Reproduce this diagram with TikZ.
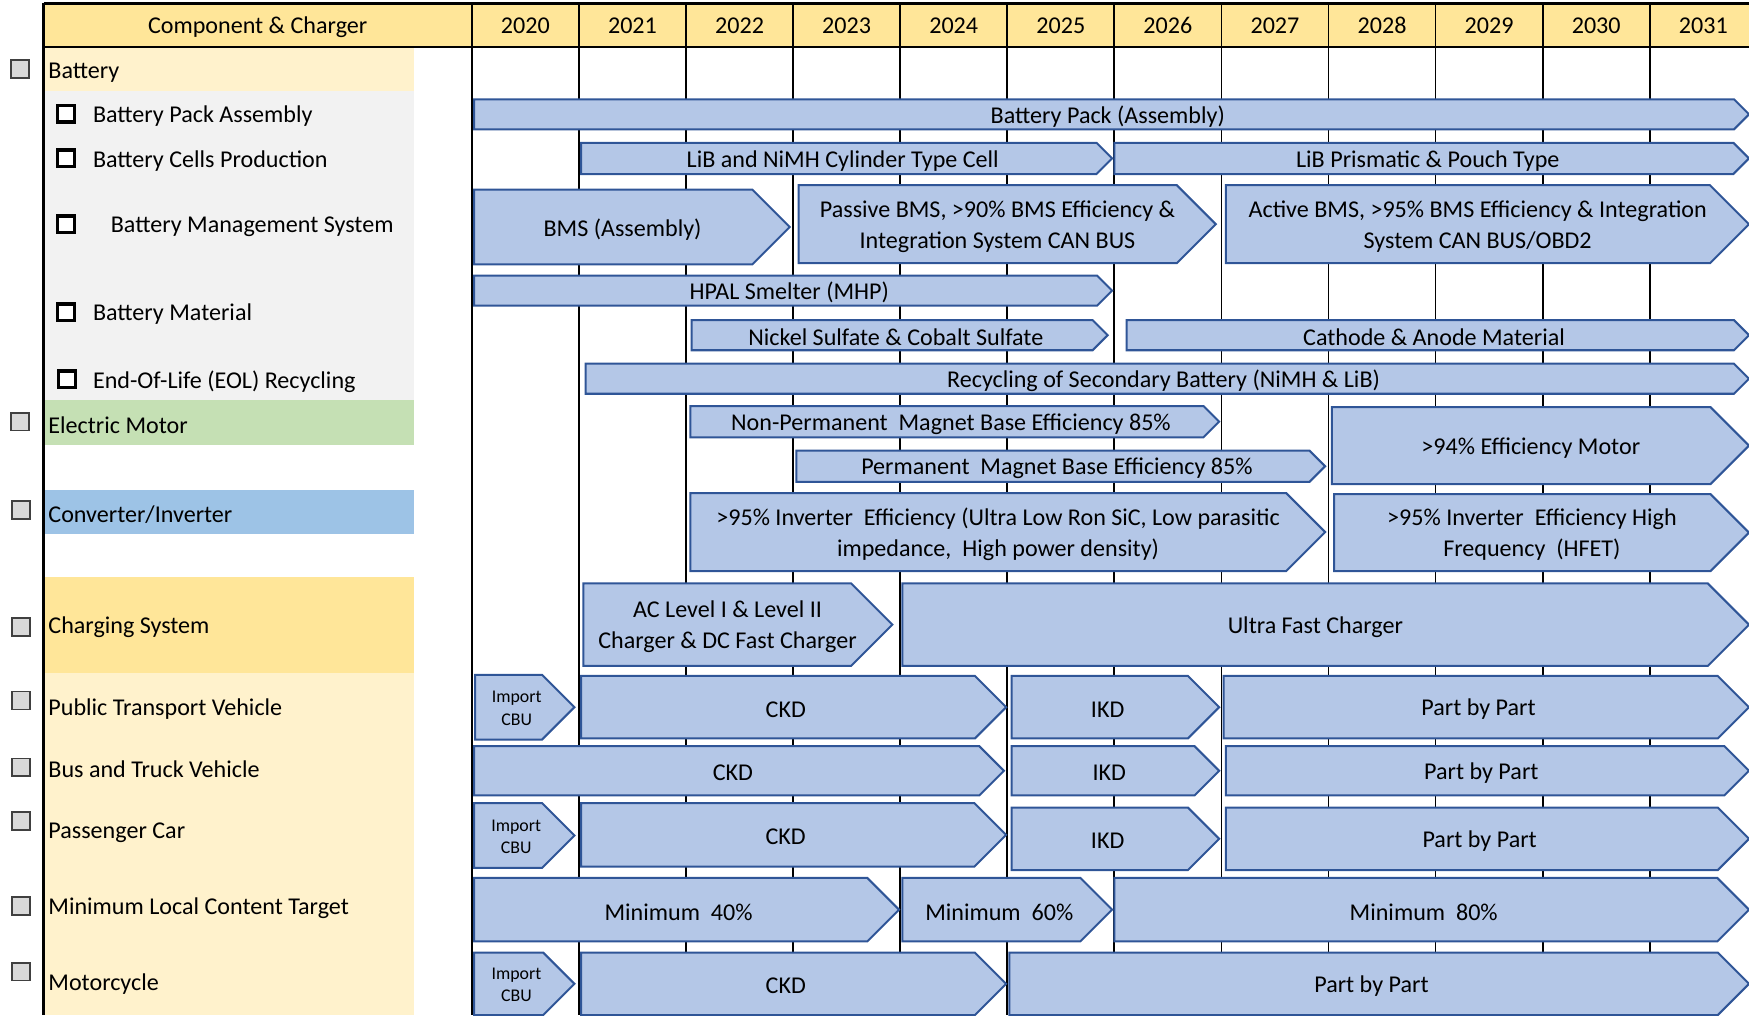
\documentclass[tikz,border=0pt]{standalone}
\usepackage{fontspec}
\setmainfont{Carlito}
\definecolor{hdrY}{HTML}{FFE699}
\definecolor{lyel}{HTML}{FFF2CC}
\definecolor{lgray}{HTML}{F2F2F2}
\definecolor{lgreen}{HTML}{C5E0B4}
\definecolor{lblue}{HTML}{9DC3E6}
\definecolor{barfill}{HTML}{B4C7E7}
\definecolor{barline}{HTML}{2F5597}
\definecolor{cbfill}{HTML}{D9D9D9}
\tikzset{
  gridline/.style={black, line width=0.8pt},
  hdrline/.style={black, line width=1.1pt},
  barshape/.style={fill=barfill, draw=barline, line width=0.9pt, line join=miter},
  bartext/.style={font=\fontsize{10.8}{14}\selectfont, align=center, inner sep=0pt, yshift=-1pt},
  smalltext/.style={font=\fontsize{8}{10}\selectfont, align=center, inner sep=0pt, yshift=-0.5pt},
  lbl/.style={font=\fontsize{10.8}{13}\selectfont, anchor=west, inner sep=0pt, yshift=-1pt},
  hdrtext/.style={font=\fontsize{10.8}{13}\selectfont, inner sep=0pt, anchor=base},
  cbg/.style={draw=black!75, fill=cbfill, line width=0.8pt, minimum size=8pt, inner sep=0pt},
  cbw/.style={draw=black, fill=white, line width=1.5pt, minimum size=7.5pt, inner sep=0pt}
}
% name, x1, x2, y1, y2, text, style
\newcommand\chev[7]{%
  \pgfmathsetmacro\hh{(#5-#4)/2}%
  \pgfmathsetmacro\xa{#3-\hh}%
  \pgfmathsetmacro\ym{(#4+#5)/2}%
  \pgfmathsetmacro\xc{(#2+#3-\hh/2)/2}%
  \draw[barshape] (#2,#4) -- (\xa,#4) -- (#3,\ym) -- (\xa,#5) -- (#2,#5) -- cycle;
  \node[#7] (#1) at (\xc,\ym) {#6};
}
\begin{document}
\begin{tikzpicture}[x=0.5pt,y=-0.5pt]
\useasboundingbox (0,0) rectangle (1568,910);
% backgrounds
\fill[hdrY] (39,3) rectangle (1568,42);
\fill[lyel] (40,43) rectangle (371,82);
\fill[lgray] (40,82) rectangle (371,359);
\fill[lgreen] (40,359) rectangle (371,399);
\fill[lblue] (40,439) rectangle (371,479);
\fill[hdrY] (40,517) rectangle (371,603);
\fill[lyel] (40,603) rectangle (371,910);
% grid
\foreach \x in {519,615,...,1479} \draw[gridline] (\x,3) -- (\x,910);
\draw[hdrline] (39,3) -- (39,910);
\draw[hdrline] (423,3) -- (423,910);
\draw[hdrline] (39,3) -- (1568,3);
\draw[hdrline] (39,42) -- (1568,42);
% header
\node[hdrtext] (hComp) at (231,30) {Component \& Charger};
\foreach \yr [count=\i from 0] in {2020,2021,2022,2023,2024,2025,2026,2027,2028,2029,2030,2031}
  \node[hdrtext] (y\yr) at ({471+96*\i},30) {\yr};
% left labels
\node[cbg] (cbA) at (18,62) {};
\node[lbl] (lA) at (43,63) {Battery};
\node[cbw] (cbA1) at (59,102) {};
\node[lbl] (lA1) at (83,102) {Battery Pack Assembly};
\node[cbw] (cbA2) at (59,142) {};
\node[lbl] (lA2) at (83,142) {Battery Cells Production};
\node[cbw] (cbA3) at (59,201) {};
\node[lbl] (lA3) at (99,201) {Battery Management System};
\node[cbw] (cbA4) at (59,280) {};
\node[lbl] (lA4) at (83,280) {Battery Material};
\node[cbw] (cbA5) at (60,340) {};
\node[lbl] (lA5) at (83,340) {End-Of-Life (EOL) Recycling};
\node[cbg] (cbB) at (18,378) {};
\node[lbl] (lB) at (43,379) {Electric Motor};
\node[cbg] (cbC) at (19,457) {};
\node[lbl] (lC) at (43,459) {Converter/Inverter};
\node[cbg] (cbD) at (19,562) {};
\node[lbl] (lD) at (43,560) {Charging System};
\node[cbg] (cbE) at (19,628) {};
\node[lbl] (lE) at (43,634) {Public Transport Vehicle};
\node[cbg] (cbF) at (19,688) {};
\node[lbl] (lF) at (43,688) {Bus and Truck Vehicle};
\node[cbg] (cbG) at (19,736) {};
\node[lbl] (lG) at (43,745) {Passenger Car};
\node[cbg] (cbH) at (19,812) {};
\node[lbl] (lH) at (43,812) {Minimum Local Content Target};
\node[cbg] (cbI) at (19,871) {};
\node[lbl] (lI) at (43,880) {Motorcycle};
% bars
\chev{b1}{425}{1568}{89}{116}{Battery Pack (Assembly)}{bartext}
\chev{b2}{521}{997}{128}{156}{LiB and NiMH Cylinder Type Cell}{bartext}
\chev{b3}{999}{1568}{128}{156}{LiB Prismatic \& Pouch Type}{bartext}
\chev{b4}{425}{708}{170}{237}{BMS (Assembly)}{bartext}
\chev{b5}{716}{1090}{166}{236}{Passive BMS, >90\% BMS Efficiency \&\\Integration System CAN BUS}{bartext}
\chev{b6}{1099}{1568}{166}{236}{Active BMS, >95\% BMS Efficiency \& Integration\\System CAN BUS/OBD2}{bartext}
\chev{b7}{425}{997}{247}{274}{HPAL Smelter (MHP)}{bartext}
\chev{b8}{620}{993}{287}{314}{Nickel Sulfate \& Cobalt Sulfate}{bartext}
\chev{b9}{1010}{1568}{287}{314}{Cathode \& Anode Material}{bartext}
\chev{b10}{525}{1568}{326}{353}{Recycling of Secondary Battery (NiMH \& LiB)}{bartext}
\chev{b11}{619}{1093}{364}{392}{Non-Permanent\ \ Magnet Base Efficiency 85\%}{bartext}
\chev{b12}{714}{1188}{404}{432}{Permanent\ \ Magnet Base Efficiency 85\%}{bartext}
\chev{b13}{1194}{1568}{365}{434}{>94\% Efficiency Motor}{bartext}
\chev{b14}{619}{1188}{442}{512}{>95\% Inverter\ \ Efficiency (Ultra Low Ron SiC, Low parasitic\\impedance,\ \ High power density)}{bartext}
\chev{b15}{1196}{1568}{443}{512}{>95\% Inverter\ \ Efficiency High\\Frequency\ \ (HFET)}{bartext}
\chev{b16}{523}{800}{523}{597}{AC Level I \& Level II\\Charger \& DC Fast Charger}{bartext}
\chev{b17}{809}{1568}{523}{597}{Ultra Fast Charger}{bartext}
\chev{b18}{426}{515}{605}{663}{Import\\CBU}{smalltext}
\chev{b19}{521}{902}{606}{662}{CKD}{bartext}
\chev{b20}{907}{1093}{606}{662}{IKD}{bartext}
\chev{b21}{1097}{1568}{606}{662}{Part by Part}{bartext}
\chev{b22}{425}{900}{669}{713}{CKD}{bartext}
\chev{b23}{907}{1093}{669}{713}{IKD}{bartext}
\chev{b24}{1099}{1568}{669}{713}{Part by Part}{bartext}
\chev{b25}{425}{515}{720}{778}{Import\\CBU}{smalltext}
\chev{b26}{521}{902}{720}{777}{CKD}{bartext}
\chev{b27}{907}{1093}{724}{780}{IKD}{bartext}
\chev{b28}{1099}{1568}{724}{780}{Part by Part}{bartext}
\chev{b29}{425}{806}{787}{844}{Minimum\ \ 40\%}{bartext}
\chev{b30}{809}{997}{787}{844}{Minimum\ \ 60\%}{bartext}
\chev{b31}{999}{1568}{787}{844}{Minimum\ \ 80\%}{bartext}
\chev{b32}{425}{515}{854}{910}{Import\\CBU}{smalltext}
\chev{b33}{521}{902}{854}{910}{CKD}{bartext}
\chev{b34}{905}{1568}{854}{910}{Part by Part}{bartext}
\end{tikzpicture}
\end{document}
